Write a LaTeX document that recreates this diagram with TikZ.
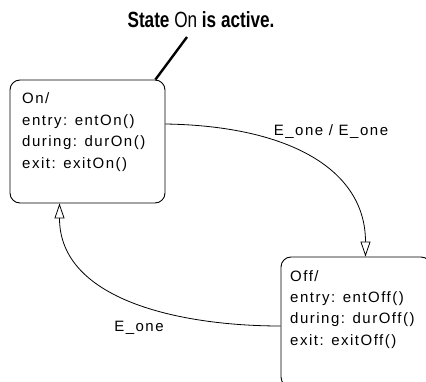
\documentclass[tikz,border=0pt]{standalone}
\usepackage{fontspec}
\setmainfont{Liberation Sans}
\newfontfamily\boxfont[LetterSpace=10]{Liberation Sans}
\usetikzlibrary{arrows.meta,calc}
\tikzset{
  statebox/.style={draw, line width=0.9pt, rounded corners=10pt, inner sep=0pt},
  statetext/.style={align=left, inner sep=0pt, anchor=base west,
    font=\boxfont\fontsize{15}{21.4}\selectfont},
  trans/.style={draw, line width=0.8pt, -{Triangle[open, length=15pt, width=10pt, line width=0.8pt]}},
  translabel/.style={inner sep=0pt, anchor=base, font=\boxfont\fontsize{15}{18}\selectfont},
}
\begin{document}
\begin{tikzpicture}[x=1pt, y=-1pt]
\useasboundingbox (0,0) rectangle (426,382);
% title
\node[inner sep=0pt, anchor=base] (title) at (201,28)
  {\scalebox{0.78}[1]{\fontsize{22}{24}\selectfont\bfseries State \mdseries On\bfseries{} is active.}};
% states
\node[statebox, minimum width=155pt, minimum height=123pt] (on) at (87.5,141.5) {};
\node[statetext] (ontext) at (22,168.2) {On/\\entry: entOn()\\during: durOn()\\exit: exitOn()};
\node[statebox, minimum width=150pt, minimum height=130pt] (off) at (356,322) {};
\node[statetext] (offtext) at (290,345.2) {Off/\\entry: entOff()\\during: durOff()\\exit: exitOff()};
% callout
\draw[line width=2.4pt] ($(title.base)+(-14,9)$) -- ([xshift=-10pt]on.north east);
% transitions
\draw[trans] ([yshift=17.5pt]on.east) .. controls (290,126) and (365.5,170) .. ([xshift=9.5pt]off.north);
\draw[trans] ([yshift=-4pt]off.west) .. controls (180,326) and (59.5,300) .. ([xshift=-28pt]on.south);
% labels
\node[translabel] (l1) at (331,136) {E\_one / E\_one};
\node[translabel] (l2) at (139,331) {E\_one};
\end{tikzpicture}
\end{document}
